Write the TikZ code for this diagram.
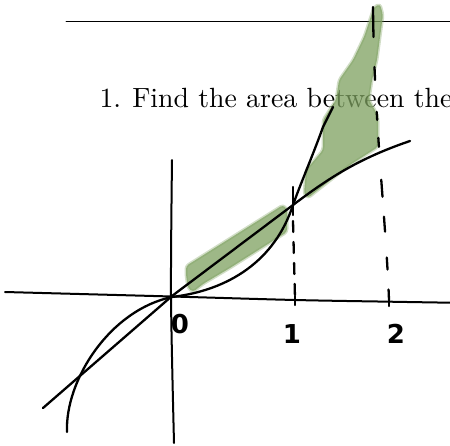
\documentclass[tikz,border=0pt]{standalone}
\usepackage{fontspec}
\newfontfamily\handfont{DejaVu Sans}
\begin{document}
\begin{tikzpicture}[x=1pt,y=-1pt,line cap=round,line join=round]
\definecolor{hl}{RGB}{125,160,95}
\tikzset{
  ink/.style={line width=2.3pt,black},
  axis/.style={line width=2pt,black},
  hilite/.style={fill=hl,fill opacity=0.75,draw=hl,draw opacity=0.35,line width=3pt,rounded corners=3pt},
  digit/.style={font=\handfont\bfseries\fontsize{26}{26}\selectfont,inner sep=0pt},
  rule/.style={line width=0.9pt}
}
\useasboundingbox (0,0) rectangle (450,445);
% header rule and question text
\draw[rule] (66,21) -- (450,21);
\node[anchor=base west,inner sep=0pt,scale=2.78] (q) at (99,107) {1.\hspace{4pt}Find the area between the};
% green highlights
\fill[hilite] (374,7) -- (380,4) -- (383,15) -- (380,37) -- (377,60) -- (372,80) -- (369,100) -- (376,112) -- (378,118) -- (378,147) -- (350,165) -- (318,190) -- (308,198) -- (304,194) -- (306,170) -- (323,150) -- (323,120) -- (336,100) -- (339,80) -- (353,60) -- (364,37) -- cycle;
\fill[hilite] (186,266) -- (283,205) -- (287,209) -- (287,232) -- (230,268) -- (203,284) -- (193,292) -- (188,288) -- (186,275) -- cycle;
% axes
\draw[axis] plot[smooth] coordinates {(5,292) (172,296.5) (295,300) (390,301.7) (450,302.7)};
\draw[axis] plot[smooth] coordinates {(172,160) (171,297) (174,443)};
% ticks
\draw[ink] (295,296) -- (295,305);
\draw[ink] (389,297) -- (389,306);
% labels
\node[digit] (l0) at (180,324) {0};
\node[digit] (l1) at (292,334) {1};
\node[digit] (l2) at (396,334) {2};
% vertical guides
\draw[ink] (293,187) -- (293,215);
\draw[ink,dash pattern=on 11pt off 10pt] (293,221) -- (295,298);
\draw[ink,dash pattern=on 30pt off 30pt on 13pt off 32pt on 8pt off 18pt on 9pt off 33pt on 17pt off 20pt on 15pt off 26pt on 12pt off 20pt on 12pt off 20pt] (373,7) .. controls (374,120) and (386,220) .. (389,300);
% curves
\draw[ink] (67,432) .. controls (65,380) and (110,310) .. (172,297)
  .. controls (230,290) and (275,260) .. (293,205)
  .. controls (300,185) and (313,155) .. (323,127) -- (333,107);
\draw[ink] (43,408) -- (172,296) -- (293,205) .. controls (330,177) and (360,158) .. (410,141);
\end{tikzpicture}
\end{document}
